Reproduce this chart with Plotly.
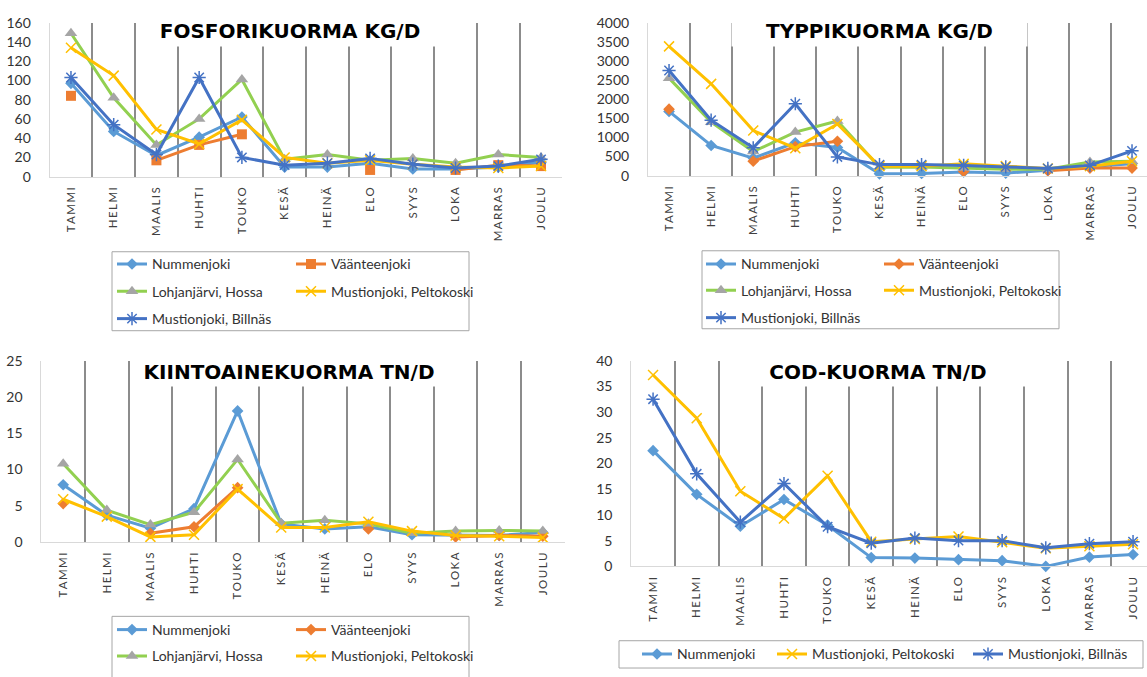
import plotly.graph_objects as go

W, H = 1147, 677

MONTHS = ["TAMMI", "HELMI", "MAALIS", "HUHTI", "TOUKO", "KESÄ",
          "HEINÄ", "ELO", "SYYS", "LOKA", "MARRAS", "JOULU"]
MONTH_LABELS = ["\u2009".join(m) for m in MONTHS]

# Fosforikuorma kg/d
fos_nummenjoki = [97, 47, 22, 41, 62, 10, 10, 14, 8, 8, 10, 15]
fos_vaanteenjoki = [84, None, 17, 33, 44, None, None, 7, None, 7, 12, 11]
fos_lohjanjarvi = [149, 82, 33, 60, 101, 18, 23, 17, 19, 14, 23, 20]
fos_peltokoski = [134, 105, 49, 34, 59, 20, 14, 17, 13, 10, 9, 11]
fos_billnas = [103, 54, 23, 103, 20, 12, 14, 19, 13, 9, 11, 18]

# Typpikuorma kg/d
typ_nummenjoki = [1680, 790, 460, 860, 740, 50, 60, 100, 70, 140, 240, 310]
typ_vaanteenjoki = [1740, None, 380, 760, 900, None, None, 110, None, 130, 200, 200]
typ_lohjanjarvi = [2550, 1400, 630, 1140, 1430, 220, 230, 200, 170, 170, 360, 380]
typ_peltokoski = [3380, 2400, 1180, 720, 1350, 250, 250, 310, 250, 190, 250, 380]
typ_billnas = [2750, 1450, 730, 1880, 490, 290, 290, 270, 230, 190, 270, 650]

# Kiintoainekuorma tn/d
kii_nummenjoki = [7.9, 3.7, 1.9, 4.6, 18.1, 2.5, 1.8, 2.1, 1.0, 1.0, 0.9, 1.3]
kii_vaanteenjoki = [5.3, None, 1.2, 2.1, 7.5, None, None, 1.8, None, 0.7, 0.9, 0.8]
kii_lohjanjarvi = [10.8, 4.4, 2.4, 4.1, 11.4, 2.6, 3.0, 2.5, 1.2, 1.5, 1.6, 1.5]
kii_peltokoski = [5.9, 3.5, 0.7, 1.0, 7.3, 2.0, 2.0, 2.8, 1.5, 0.9, 0.8, 0.6]

# COD-kuorma tn/d
cod_nummenjoki = [22.5, 14.0, 7.8, 13.0, 8.0, 1.7, 1.6, 1.3, 1.1, 0.0, 1.8, 2.3]
cod_peltokoski = [37.2, 28.8, 14.6, 9.3, 17.6, 4.8, 5.3, 5.8, 4.7, 3.5, 3.9, 4.3]
cod_billnas = [32.5, 18.0, 8.6, 16.1, 7.7, 4.5, 5.5, 5.0, 5.0, 3.6, 4.4, 4.8]

NAMES = {
    "num": "Nummenjoki",
    "vaa": "Väänteenjoki",
    "loh": "Lohjanjärvi, Hossa",
    "pel": "Mustionjoki, Peltokoski",
    "bil": "Mustionjoki, Billnäs",
}


def px_x(p):
    return p / W


def px_y(p):
    return 1 - p / H


def style(key, square=False):
    if key == "num":
        return dict(line=dict(color="#5B9BD5", width=3),
                    marker=dict(symbol="diamond", size=9, color="#5B9BD5"))
    if key == "vaa":
        return dict(line=dict(color="#ED7D31", width=3),
                    marker=dict(symbol="square" if square else "diamond",
                                size=10 if square else 9, color="#ED7D31"))
    if key == "loh":
        return dict(line=dict(color="#92D050", width=3),
                    marker=dict(symbol="triangle-up", size=11, color="#A5A5A5"))
    if key == "pel":
        return dict(line=dict(color="#FFC000", width=3),
                    marker=dict(symbol="x-thin-open", size=10, color="#FFC000",
                                line=dict(color="#FFC000", width=1.5)))
    return dict(line=dict(color="#4472C4", width=3),
                marker=dict(symbol="asterisk-open", size=11, color="#4472C4",
                            line=dict(color="#4472C4", width=1.5)))


# chart specs: axis suffix, series, legend entry positions (line start px, row centre px)
charts = [
    dict(ax="", title="FOSFORIKUORMA KG/D", square=True,
         xpx=(49.6, 562.4), xr=(-0.5, 11.5), ypx=(14, 172), yr=(0, 160), dt=20,
         title_pos=(290, 23, 300, 30),
         box=(112, 249, 469, 330),
         series=[("num", fos_nummenjoki, 117, 262), ("vaa", fos_vaanteenjoki, 296, 262),
                 ("loh", fos_lohjanjarvi, 117, 290), ("pel", fos_peltokoski, 296, 290),
                 ("bil", fos_billnas, 117, 318)]),
    dict(ax="2", title="TYPPIKUORMA KG/D", square=False,
         xpx=(648, 1147), xr=(-0.5, 11.356), ypx=(14, 171), yr=(0, 4000), dt=500,
         title_pos=(879, 23, 295, 30),
         box=(702, 248, 1059, 328),
         series=[("num", typ_nummenjoki, 706, 262), ("vaa", typ_vaanteenjoki, 884, 262),
                 ("loh", typ_lohjanjarvi, 706, 289), ("pel", typ_peltokoski, 884, 289),
                 ("bil", typ_billnas, 706, 317)]),
    dict(ax="3", title="KIINTOAINEKUORMA TN/D", square=False,
         xpx=(41.4, 564.6), xr=(-0.5, 11.5), ypx=(361, 546.7), yr=(0, 25), dt=5,
         title_pos=(289, 372, 310, 28),
         box=(112, 623, 469, 700),
         series=[("num", kii_nummenjoki, 117, 637), ("vaa", kii_vaanteenjoki, 296, 637),
                 ("loh", kii_lohjanjarvi, 117, 664), ("pel", kii_peltokoski, 296, 664)]),
    dict(ax="4", title="COD-KUORMA TN/D", square=False,
         xpx=(631.25, 1147), xr=(-0.5, 11.32), ypx=(360.7, 571.7), yr=(0, 40), dt=5,
         title_pos=(878, 372, 300, 28),
         box=(619, 648, 1143, 676),
         series=[("num", cod_nummenjoki, 642, 662), ("pel", cod_peltokoski, 777, 662),
                 ("bil", cod_billnas, 973, 662)]),
]

fig = go.Figure()
layout = dict(width=W, height=H, margin=dict(l=0, r=0, t=0, b=0),
              paper_bgcolor="white", plot_bgcolor="white", showlegend=True,
              font=dict(family="Lato", color="#404040"),
              shapes=[], annotations=[])

legend_no = 0
for c in charts:
    ax = c["ax"]
    xa = "xaxis" + ax
    ya = "yaxis" + ax
    layout[xa] = dict(
        domain=[px_x(c["xpx"][0]), px_x(c["xpx"][1])],
        anchor="y" + ax, type="category", range=list(c["xr"]),
        categoryorder="array", categoryarray=MONTHS,
        tickmode="array", tickvals=MONTHS, ticktext=MONTH_LABELS,
        tickson="boundaries", ticks="", tickangle=-90,
        tickfont=dict(family="Lato", size=11.5, color="#404040"),
        ticklabelstandoff=5,
        showgrid=True, gridcolor="#8c8c8c", gridwidth=1.5,
        showline=True, linecolor="#d9d9d9", linewidth=1,
        zeroline=False, fixedrange=True,
    )
    layout[ya] = dict(
        domain=[px_y(c["ypx"][1]), px_y(c["ypx"][0])],
        anchor="x" + ax, range=list(c["yr"]), dtick=c["dt"], tick0=0,
        showgrid=False, zeroline=False, ticks="",
        showline=True, linecolor="#d9d9d9", linewidth=1,
        tickfont=dict(family="Lato", size=14, color="#333333"),
        ticklabelstandoff=15, fixedrange=True,
    )
    for key, vals, lx, ly in c["series"]:
        legend_no += 1
        lname = "legend" if legend_no == 1 else "legend%d" % legend_no
        fig.add_trace(go.Scatter(
            x=MONTHS, y=vals, name=NAMES[key], mode="lines+markers",
            connectgaps=False, cliponaxis=False, showlegend=True,
            xaxis="x" + ax, yaxis="y" + ax, legend=lname,
            **style(key, c["square"]),
        ))
        layout[lname] = dict(
            x=px_x(lx - 5), y=px_y(ly), xanchor="left", yanchor="middle",
            bgcolor="rgba(0,0,0,0)", borderwidth=0,
            font=dict(family="Lato", size=14, color="#333333"),
        )
    bx0, by0, bx1, by1 = c["box"]
    layout["shapes"].append(dict(
        type="rect", xref="paper", yref="paper",
        x0=px_x(bx0), x1=px_x(bx1), y0=px_y(by1), y1=px_y(by0),
        line=dict(color="#a6a6a6", width=1), fillcolor="rgba(0,0,0,0)",
    ))
    tx, ty, tw, th = c["title_pos"]
    layout["annotations"].append(dict(
        text=c["title"], xref="paper", yref="paper",
        x=px_x(tx), y=px_y(ty), xanchor="center", yanchor="middle",
        showarrow=False, bgcolor="white", width=tw, height=th, borderpad=0,
        font=dict(family="DejaVu Sans", size=20, color="#000000", weight="bold"),
    ))

fig.update_layout(**layout)
fig.write_html("out.html")
